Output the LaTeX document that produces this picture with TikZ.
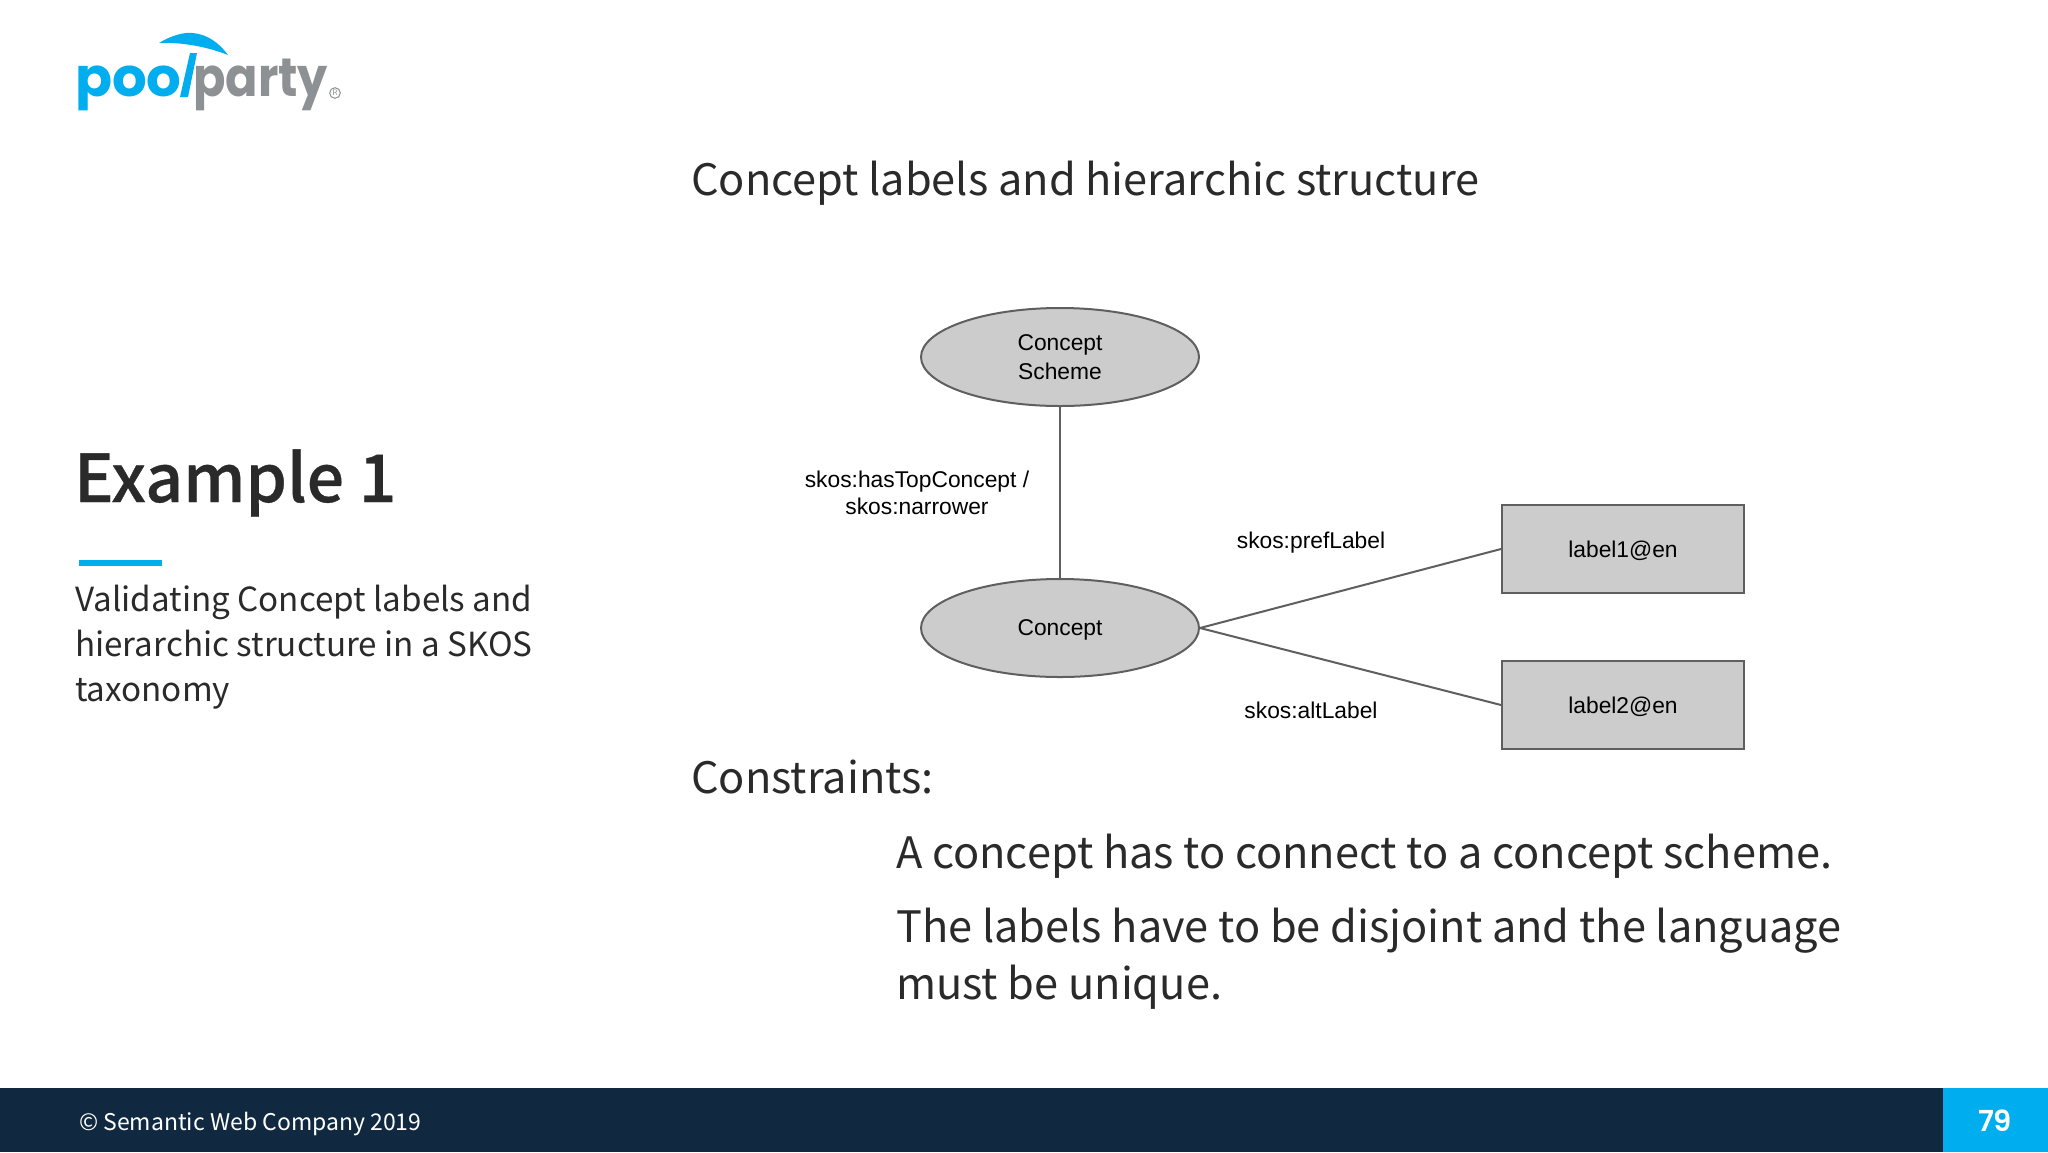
\documentclass[tikz,border=0pt]{standalone}
\usepackage{fontspec}
\setmainfont{Noto Sans CJK SC}
\newfontfamily\diagramfont{Liberation Sans}
\newfontfamily\logofont{Poppins}
\newfontfamily\pagefont{Poppins SemiBold}
\newfontfamily\headingfont[FakeBold=0.5]{Noto Sans CJK SC Medium}
\usetikzlibrary{shapes.geometric}
\definecolor{poolblue}{HTML}{00AEEF}
\definecolor{poolgray}{HTML}{8E9193}
\definecolor{footernavy}{HTML}{102940}
\definecolor{bodytext}{HTML}{2A2A2A}
\definecolor{shapeline}{HTML}{5F5F5F}
\definecolor{shapefill}{HTML}{CCCCCC}
\tikzset{
  classnode/.style={ellipse, draw=shapeline, fill=shapefill, line width=2pt, minimum width=278pt, minimum height=98pt, inner sep=0pt, font=\diagramfont\fontsize{22.8}{28}\selectfont, align=center},
  literalnode/.style={rectangle, draw=shapeline, fill=shapefill, line width=2pt, minimum width=242pt, minimum height=88pt, inner sep=0pt, text height=22pt, text depth=5pt, font=\diagramfont\fontsize{22.8}{28}\selectfont},
  edgelabel/.style={font=\diagramfont\fontsize{22.8}{28}\selectfont, align=center, inner sep=0pt},
  relation/.style={draw=shapeline, line width=2pt},
  slidetext/.style={anchor=base west, inner sep=0pt, text=bodytext},
  logotext/.style={anchor=base west, inner sep=0pt, transform shape, font=\logofont\bfseries\fontsize{54}{54}\selectfont}
}
\begin{document}
\begin{tikzpicture}[x=1pt,y=-1pt]
\useasboundingbox (0,0) rectangle (2048,1152);
\fill [white] (0,0) rectangle (2048,1152);
\node [logotext, text=poolblue, xscale=1.01] (logopool) at (75,96) {poo};
\node [logotext, text=poolgray, xscale=.885] (logoparty) at (193,96) {party};
\fill [poolblue] (190,53) -- (197,53) -- (188,97) -- (180,97) -- cycle;
\fill [poolblue] (159,43) .. controls (172,35) and (185,32) .. (192,33) .. controls (208,34) and (220,44) .. (228,55) .. controls (208,47) and (182,42) .. (159,43) -- cycle;
\node [circle, draw=poolgray, line width=1pt, inner sep=1pt, text=poolgray, font=\sffamily\fontsize{8}{8}\selectfont] (logomark) at (335,93) {R};
\node [slidetext, font=\fontsize{43.3}{50}\selectfont] (title) at (691,195.5) {Concept labels and hierarchic structure};
\node [slidetext, font=\headingfont\fontsize{66}{70}\selectfont] (heading) at (74,502) {Example 1};
\fill [poolblue] (79,560) rectangle (162,566);
\node [slidetext, font=\fontsize{33.2}{40}\selectfont] (intro1) at (75,611.5) {Validating Concept labels and};
\node [slidetext, font=\fontsize{33.2}{40}\selectfont] (intro2) at (75,656.5) {hierarchic structure in a SKOS};
\node [slidetext, font=\fontsize{33.2}{40}\selectfont] (intro3) at (75,701) {taxonomy};
\node [classnode] (scheme) at (1060,357) {Concept\\[.5pt]Scheme};
\node [classnode, text height=19pt] (concept) at (1060,628) {Concept};
\node [literalnode] (label1) at (1623,549) {label1@en};
\node [literalnode] (label2) at (1623,705) {label2@en};
\draw [relation] (scheme) -- (concept);
\draw [relation] (concept.east) -- (label1.west);
\draw [relation] (concept.east) -- (label2.west);
\node [edgelabel] (narrower) at (917,493) {skos:hasTopConcept /\\[-1pt]skos:narrower};
\node [edgelabel] (preflabel) at (1311,543) {skos:prefLabel};
\node [edgelabel] (altlabel) at (1311,710) {skos:altLabel};
\node [slidetext, font=\fontsize{43.3}{50}\selectfont] (constraints) at (691,793) {Constraints:};
\node [slidetext, font=\fontsize{43.3}{50}\selectfont] (rule1) at (896,868) {A concept has to connect to a concept scheme.};
\node [slidetext, font=\fontsize{43.3}{50}\selectfont] (rule2) at (896,942) {The labels have to be disjoint and the language};
\node [slidetext, font=\fontsize{43.3}{50}\selectfont] (rule3) at (896,999.5) {must be unique.};
\fill [footernavy] (0,1088) rectangle (1943,1152);
\fill [poolblue] (1943,1088) rectangle (2048,1152);
\node [slidetext, text=white, font=\fontsize{23}{28}\selectfont] (copyright) at (79,1130) {© Semantic Web Company 2019};
\node [text=white, inner sep=0pt, font=\pagefont\fontsize{29}{34}\selectfont] (pagenum) at (1995,1121) {79};
\end{tikzpicture}
\end{document}
